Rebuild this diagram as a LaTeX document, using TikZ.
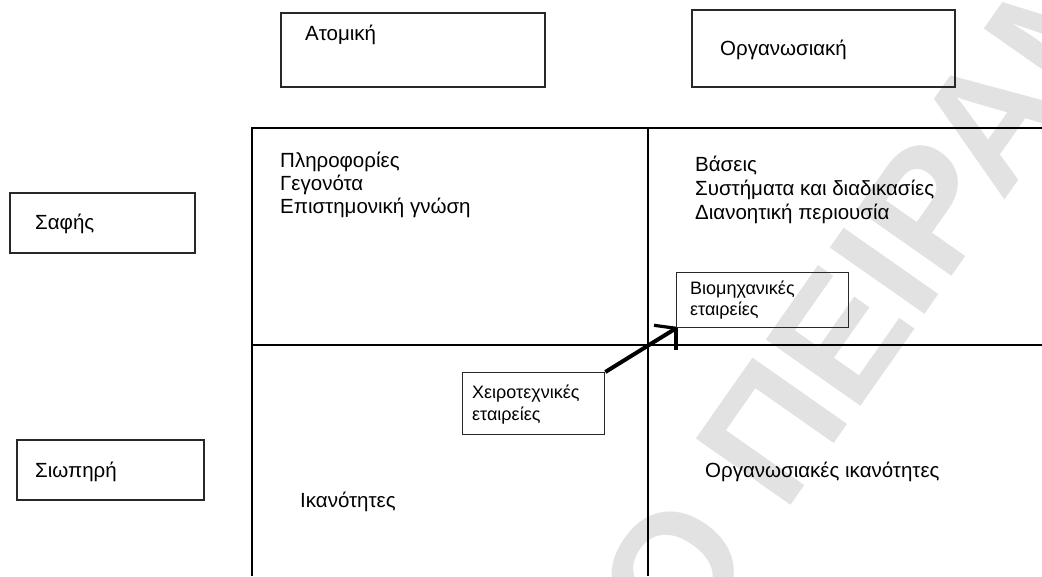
\documentclass[tikz,border=0pt]{standalone}
\usepackage{fontspec}
\setmainfont{Liberation Sans}
\newfontfamily\wmfont{Liberation Sans}
\definecolor{wmgray}{RGB}{226,226,226}
\definecolor{boxline}{RGB}{40,40,40}
\begin{document}
\begin{tikzpicture}[x=1pt,y=-1pt,
  box/.style={draw=boxline,line width=1.3pt,fill=none},
  grid/.style={draw=black,line width=1.4pt},
  lbl/.style={anchor=base west,inner sep=0pt,font=\fontsize{20.5}{23}\selectfont},
  sml/.style={anchor=base west,inner sep=0pt,font=\fontsize{18}{20}\selectfont},
  wm/.style={anchor=base west,inner sep=0pt,rotate=55,text=wmgray,font=\wmfont\bfseries\fontsize{168}{170}\selectfont}]
\useasboundingbox (0,0) rectangle (1042,576);
\fill[white] (0,0) rectangle (1042,576);
% watermark
\begin{scope}
  \clip (0,0) rectangle (1042,576);
  \node[wm] (wmark) at (683,660) {Ο ΠΕΙΡΑΜΑ};
\end{scope}
% header boxes
\draw[box] (281,13) rectangle (545,87);
\node[lbl] (atom) at (305,40) {Ατομική};
\draw[box] (692,10) rectangle (955,87);
\node[lbl] (org) at (720,55) {Οργανωσιακή};
\draw[box] (10,193) rectangle (195,253);
\node[lbl] (saf) at (35,229) {Σαφής};
\draw[box] (17,440) rectangle (204,500);
\node[lbl] (siop) at (35,477) {Σιωπηρή};
% grid
\draw[grid] (1042,128) -- (252,128) -- (252,576);
\draw[grid] (648,128) -- (648,576);
\draw[grid] (252,345) -- (1042,345);
% top-left cell
\node[lbl] (t1) at (280,167) {Πληροφορίες};
\node[lbl] (t2) at (280,190) {Γεγονότα};
\node[lbl] (t3) at (280,213) {Επιστημονική γνώση};
% top-right cell
\node[lbl] (r1) at (695,171) {Βάσεις};
\node[lbl] (r2) at (695,195) {Συστήματα και διαδικασίες};
\node[lbl] (r3) at (695,219) {Διανοητική περιουσία};
% bottom cells
\node[lbl] (b1) at (300,507) {Ικανότητες};
\node[lbl] (b2) at (705,477) {Οργανωσιακές ικανότητες};
% small boxes
\node[draw=boxline,line width=1.3pt,minimum width=172pt,minimum height=55pt,inner sep=0pt,anchor=north west] (bio) at (676,272) {};
\node[sml] (bio1) at (690,294) {Βιομηχανικές};
\node[sml] (bio2) at (690,315) {εταιρείες};
\node[draw=boxline,line width=1.3pt,minimum width=142pt,minimum height=62pt,inner sep=0pt,anchor=north west] (xei) at (462,372) {};
\node[sml] (xei1) at (472,398) {Χειροτεχνικές};
\node[sml] (xei2) at (472,420) {εταιρείες};
% arrow
\coordinate (barbL) at ([shift={(-22,-3)}]bio.south west);
\coordinate (barbD) at ([shift={(0,22)}]bio.south west);
\draw[line width=4pt] (xei.north east) -- (bio.south west);
\draw[line width=3.2pt] (bio.south west) -- (barbL);
\draw[line width=3.2pt] (bio.south west) -- (barbD);
\end{tikzpicture}
\end{document}
